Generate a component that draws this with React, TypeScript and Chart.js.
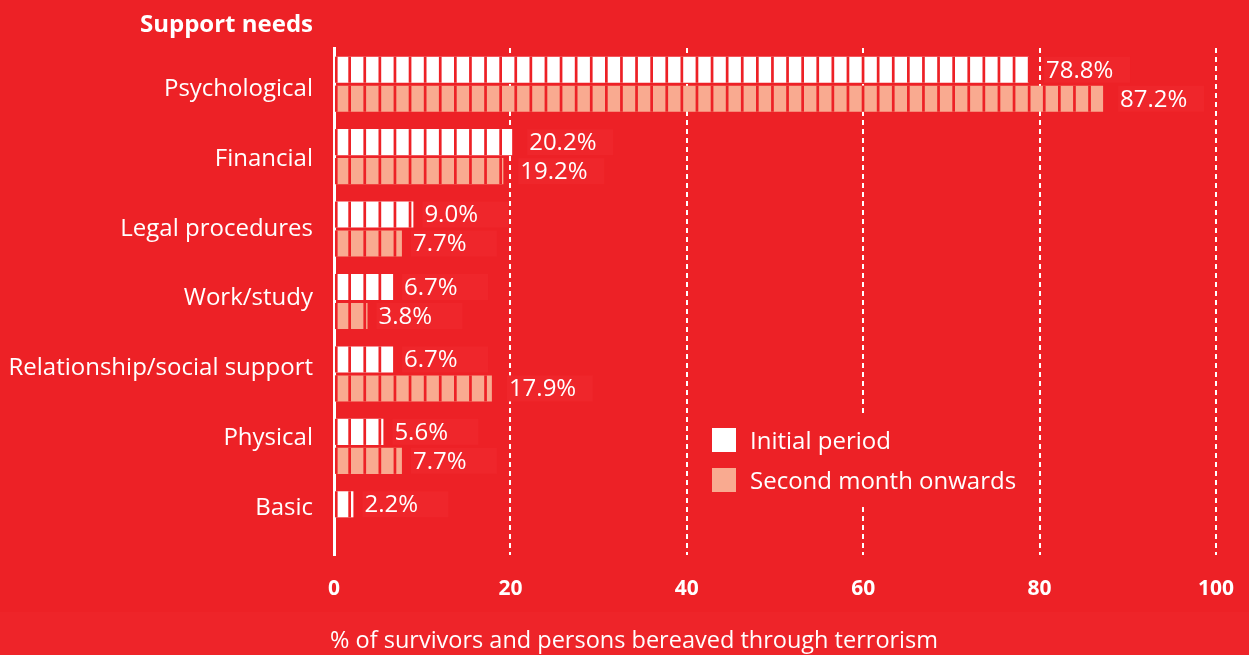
import React, { useEffect, useRef } from "react";
import { Chart, registerables } from "chart.js";

Chart.register(...registerables);

// ---- Data ----
const categories = [
  "Psychological",
  "Financial",
  "Legal procedures",
  "Work/study",
  "Relationship/social support",
  "Physical",
  "Basic",
];
const initialPeriod: (number | null)[] = [78.8, 20.2, 9.0, 6.7, 6.7, 5.6, 2.2];
const secondMonthOnwards: (number | null)[] = [87.2, 19.2, 7.7, 3.8, 17.9, 7.7, null];
const seriesLabels = ["Initial period", "Second month onwards"];
const xTickValues = [0, 20, 40, 60, 80, 100];
const categoryHeading = "Support needs";
const xAxisTitle = "% of survivors and persons bereaved through terrorism";

// ---- Styles ----
const BG = "#ED2126";
const BAND = "#EE2429";
const BOX = "#EF262B";
const WHITE = "#FFFFFF";
const SALMON = "#F9AA90";
const FONT = '"Open Sans", "Noto Sans", sans-serif';
// label axis range (layout only): places category labels as in the original
const LABEL_AXIS_MIN = -0.587;
const LABEL_AXIS_MAX = 6.673;

const decor = {
  id: "decor",
  beforeDraw(chart: any) {
    const { ctx, width, height } = chart;
    ctx.save();
    ctx.fillStyle = BG;
    ctx.fillRect(0, 0, width, height);
    ctx.fillStyle = BAND;
    ctx.fillRect(0, 612, width, height - 612);
    ctx.restore();
  },
  afterDatasetsDraw(chart: any) {
    const { ctx } = chart;
    ctx.save();
    chart.data.datasets.forEach((ds: any, di: number) => {
      const meta = chart.getDatasetMeta(di);
      meta.data.forEach((bar: any, i: number) => {
        const v = ds.data[i];
        if (v === null || v === undefined) return;
        const { x, y, base, height } = bar.getProps(["x", "y", "base", "height"], true);
        const top = y - height / 2;
        // segment gaps
        ctx.fillStyle = BG;
        ctx.fillRect(base, top, 2.6, height);
        for (let gx = base + 13.3; gx < x; gx += 15.1) {
          ctx.fillRect(gx, top, Math.min(2.7, x - gx), height);
        }
        // label box + value
        const off = v < 15 ? 9 : 15;
        ctx.fillStyle = BOX;
        ctx.fillRect(x + off, top, 86, height);
        ctx.fillStyle = WHITE;
        ctx.font = `400 24px ${FONT}`;
        ctx.textAlign = "left";
        ctx.textBaseline = "middle";
        ctx.fillText(v.toFixed(1) + "%", x + off + 2, y + 1);
      });
    });
    ctx.restore();
  },
  afterDraw(chart: any) {
    const { ctx } = chart;
    ctx.save();
    // legend
    ctx.fillStyle = BG;
    ctx.fillRect(700, 417, 330, 88);
    const colors = [WHITE, SALMON];
    seriesLabels.forEach((lab, i) => {
      const cy = 440 + i * 40;
      ctx.fillStyle = colors[i];
      ctx.fillRect(712, cy - 12, 24, 24);
      ctx.fillStyle = WHITE;
      ctx.font = `400 24px ${FONT}`;
      ctx.textAlign = "left";
      ctx.textBaseline = "middle";
      ctx.fillText(lab, 750, cy + 2);
    });
    // heading
    ctx.fillStyle = WHITE;
    ctx.font = `700 24px ${FONT}`;
    ctx.textAlign = "right";
    ctx.textBaseline = "middle";
    ctx.fillText(categoryHeading, 313, 25);
    // x title
    ctx.font = `400 23.5px ${FONT}`;
    ctx.textAlign = "left";
    ctx.fillText(xAxisTitle, 330, 641);
    ctx.restore();
  },
};

export default function App() {
  const ref = useRef<HTMLCanvasElement>(null);
  useEffect(() => {
    document.body.style.margin = "0";
    document.body.style.background = BG;
    const chart = new Chart(ref.current!, {
      type: "bar",
      data: {
        labels: categories,
        datasets: [
          {
            label: seriesLabels[0],
            data: initialPeriod,
            backgroundColor: WHITE,
            borderWidth: 0,
            categoryPercentage: 0.8,
            barPercentage: 0.9,
          },
          {
            label: seriesLabels[1],
            data: secondMonthOnwards,
            backgroundColor: SALMON,
            borderWidth: 0,
            categoryPercentage: 0.8,
            barPercentage: 0.9,
          },
        ],
      },
      options: {
        indexAxis: "y",
        responsive: false,
        animation: false,
        layout: { padding: { left: 0, top: 48, right: 33, bottom: 0 } },
        plugins: {
          legend: { display: false },
          tooltip: { enabled: false },
        },
        scales: {
          x: {
            min: 0,
            max: 100,
            z: 1,
            afterFit: (s: any) => {
              s.height = 100;
              s.paddingLeft = 0;
              s.paddingRight = 0;
            },
            afterBuildTicks: (s: any) => {
              s.ticks = xTickValues.map((v) => ({ value: v }));
            },
            border: { display: false, dash: [5, 4] },
            grid: {
              drawTicks: false,
              color: (c: any) => (c.tick && c.tick.value === 0 ? "rgba(0,0,0,0)" : WHITE),
              lineWidth: 2,
            },
            ticks: {
              color: WHITE,
              font: { family: FONT, size: 21, weight: "bold" },
              padding: 21,
              maxRotation: 0,
            },
          },
          y: {
            display: false,
          },
          yLabels: {
            type: "linear",
            axis: "y",
            position: "left",
            reverse: true,
            offset: false,
            bounds: "data",
            grace: 0,
            beginAtZero: false,
            min: LABEL_AXIS_MIN,
            max: LABEL_AXIS_MAX,
            z: 1,
            afterFit: (s: any) => {
              s.width = 334;
              s.paddingTop = 0;
              s.paddingBottom = 0;
            },
            afterBuildTicks: (s: any) => {
              s.ticks = categories.map((_, i) => ({ value: i }));
            },
            border: { display: true, color: WHITE, width: 3 },
            grid: { display: false, drawTicks: false, offset: false },
            ticks: {
              color: WHITE,
              font: { family: FONT, size: 24, weight: "normal" },
              padding: 21,
              autoSkip: false,
              callback: (v: any) => categories[Math.round(v)] ?? "",
            },
          },
        },
      } as any,
      plugins: [decor],
    });
    return () => chart.destroy();
  }, []);
  return (
    <div style={{ width: 1249, height: 655, background: BG }}>
      <canvas ref={ref} width={1249} height={655} style={{ display: "block" }} />
    </div>
  );
}
